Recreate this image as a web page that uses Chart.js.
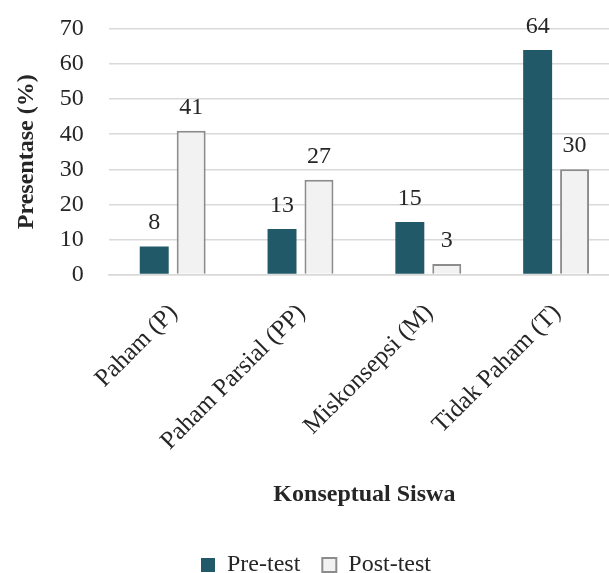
<!DOCTYPE html>
<html>
<head>
<meta charset="utf-8">
<script src="https://cdn.jsdelivr.net/npm/chart.js@4/dist/chart.umd.min.js"></script>
<style>
  html, body { margin: 0; padding: 0; background: #ffffff; overflow: hidden; }
  #wrap { width: 620px; height: 573px; }
</style>
</head>
<body>
<div id="wrap"><canvas id="c" width="620" height="573"></canvas></div>
<script>
// Categories and series values
const categories = ['Paham (P)', 'Paham Parsial (PP)', 'Miskonsepsi (M)', 'Tidak Paham (T)'];
const preTest = [8, 13, 15, 64];
const postTest = [41, 27, 3, 30];
const yTicks = [0, 10, 20, 30, 40, 50, 60, 70];

const FONT = '"Liberation Serif", "DejaVu Serif", serif';
const TEXT = '#262626';

// Writes each bar's value above it
const valueLabels = {
  id: 'valueLabels',
  afterDatasetsDraw(chart) {
    const ctx = chart.ctx;
    ctx.save();
    ctx.font = '24px ' + FONT;
    ctx.fillStyle = TEXT;
    ctx.textAlign = 'center';
    ctx.textBaseline = 'alphabetic';
    chart.data.datasets.forEach((ds, i) => {
      chart.getDatasetMeta(i).data.forEach((bar, j) => {
        ctx.fillText(String(ds.data[j]), bar.x, bar.y - 17);
      });
    });
    ctx.restore();
  }
};

new Chart(document.getElementById('c'), {
  type: 'bar',
  data: {
    labels: categories,
    datasets: [
      {
        label: 'Pre-test',
        data: preTest,
        backgroundColor: '#215968',
        borderColor: '#215968',
        borderWidth: 0
      },
      {
        label: 'Post-test',
        data: postTest,
        backgroundColor: '#F2F2F2',
        borderColor: '#8C8C8C',
        borderWidth: 2
      }
    ]
  },
  options: {
    responsive: false,
    animation: false,
    devicePixelRatio: 1,
    layout: { padding: { left: 12, right: 0, top: 29, bottom: -14 } },
    datasets: {
      bar: { categoryPercentage: 0.578, barPercentage: 0.784 }
    },
    scales: {
      x: {
        grid: { display: false, drawTicks: false },
        border: { display: true, color: '#D9D9D9', width: 1.5 },
        ticks: {
          minRotation: 45,
          maxRotation: 45,
          padding: 24,
          labelOffset: 1,
          color: TEXT,
          font: { family: FONT, size: 25 }
        },
        title: {
          display: true,
          text: 'Konseptual Siswa',
          color: TEXT,
          font: { family: FONT, size: 24, weight: 'bold' },
          padding: { top: 0, bottom: 22 }
        }
      },
      y: {
        min: 0,
        max: 70,
        afterBuildTicks(axis) { axis.ticks = yTicks.map(v => ({ value: v })); },
        // the wide label gap should not push the plot down from the top edge
        afterFit(axis) { axis.paddingTop = 15; },
        grid: { color: '#D9D9D9', lineWidth: 1.5, drawTicks: false },
        border: { display: false },
        ticks: {
          padding: 25,
          color: TEXT,
          font: { family: FONT, size: 24 }
        },
        title: {
          display: true,
          text: 'Presentase (%)',
          color: TEXT,
          font: { family: FONT, size: 24, weight: 'bold' },
          padding: { top: 0, bottom: -6 }
        }
      }
    },
    plugins: {
      legend: {
        position: 'bottom',
        labels: {
          boxWidth: 14,
          boxHeight: 14,
          padding: 22,
          color: TEXT,
          font: { family: FONT, size: 24 }
        }
      },
      tooltip: { enabled: false }
    }
  },
  plugins: [valueLabels]
});
</script>
</body>
</html>
